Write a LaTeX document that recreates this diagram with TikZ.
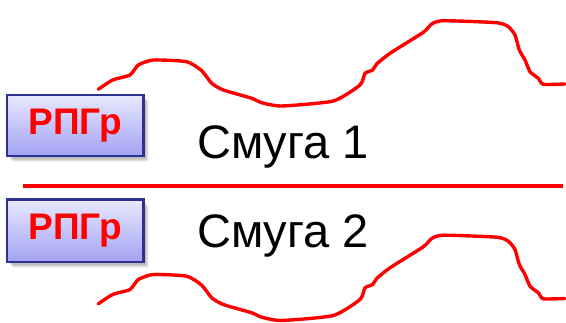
\documentclass[tikz,border=0pt]{standalone}
\usepackage{fontspec}
\setmainfont{Liberation Sans}
\begin{document}
\begin{tikzpicture}[x=1pt,y=-1pt,
  wave/.style={draw=red, line width=3.4pt, line join=round, line cap=round},
  rpg/.style={draw=none, minimum width=136pt, minimum height=61pt, inner sep=0pt,
     top color=blue!9!white, bottom color=blue!33!white!95!black,
     font=\fontsize{37}{42}\selectfont\bfseries, text=red},
  rpgframe/.style={draw={rgb,255:red,46;green,49;blue,146}, line width=2.5pt},
  band/.style={font=\fontsize{47}{52}\selectfont, text=black, anchor=base west, inner sep=0pt}
]
\useasboundingbox (0,0) rectangle (566,323);
% shadows
\foreach \o/\a in {6/0.05,5/0.07,4/0.08,3/0.09}{
  \fill[black, opacity=\a] (7.3+\o,95+\o) rectangle (143.3+\o,156+\o);
  \fill[black, opacity=\a] (7.3+\o,200+\o) rectangle (143.3+\o,261.7+\o);
}
\node[rpg] (r1) at (75.3,125.5) {РПГр};
\draw[rpgframe] (r1.north west) rectangle (r1.south east);
\node[rpg, minimum height=61.7pt] (r2) at (75.3,230.8) {РПГр};
\draw[rpgframe] (r2.north west) rectangle (r2.south east);
\node[band] (s1) at (197,158.5) {Смуга 1};
\node[band] (s2) at (197,247.5) {Смуга 2};
\coordinate (la) at (22.7,186);
\coordinate (lb) at (562.7,186);
\draw[red, line width=3.6pt] (la) -- (lb);
\def\wavepts{(98.3,89.3) (112.7,80) (130,75) (138.3,65) (153.3,60) (186.7,61.7) (201.7,70.7) (211.7,83.3) (223.3,90) (251.7,98.3) (261.7,102.7) (281.7,106) (333.3,101) (360,85) (365,73.3) (372.7,70) (376.7,64) (390,53.3) (423.3,32.3) (431.7,24) (443.3,20.7) (496.7,22.7) (508.3,26.7) (515,35) (519.3,50) (525,60) (530,71.7) (538.3,78.3) (543.3,84.3) (565,84)}
\draw[wave] plot[smooth, tension=0.35] coordinates {\wavepts};
\begin{scope}[yshift=-214.5pt]
\draw[wave] plot[smooth, tension=0.35] coordinates {\wavepts};
\end{scope}
\end{tikzpicture}
\end{document}
